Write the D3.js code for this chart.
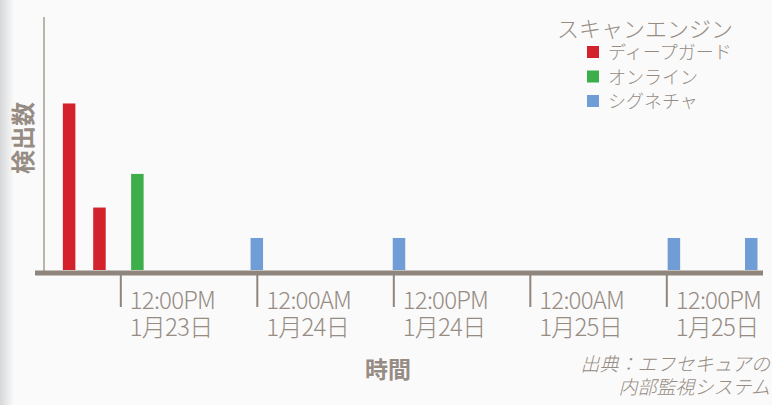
<!DOCTYPE html>
<html>
<head>
<meta charset="utf-8">
<script src="https://cdn.jsdelivr.net/npm/d3@7"></script>
<style>
  html, body { margin: 0; padding: 0; background: #fafafa; }
  svg { display: block; }
  text { font-family: "Noto Sans CJK JP", "Noto Sans", sans-serif; fill: #968c84; }
</style>
</head>
<body>
<div id="chart"></div>
<script>
// detections by scan engine over time
const engines = ['ディープガード', 'オンライン', 'シグネチャ'];
const engineColors = ['#d3222b', '#3dae4a', '#709dd5'];

const detectTimes = [
  '2015-01-23T07:30', '2015-01-23T10:10', '2015-01-23T13:30',
  '2015-01-24T00:00', '2015-01-24T12:30', '2015-01-25T12:40', '2015-01-25T19:28'
];
const detectEngines = [0, 0, 1, 2, 2, 2, 2];
const detectCounts = [5.2, 1.95, 3, 1, 1, 1, 1];

const tickTimes = [
  '2015-01-23T12:00', '2015-01-24T00:00', '2015-01-24T12:00',
  '2015-01-25T00:00', '2015-01-25T12:00'
];
const tickTimeLabels = ['12:00PM', '12:00AM', '12:00PM', '12:00AM', '12:00PM'];
const tickDateLabels = ['1月23日', '1月24日', '1月24日', '1月25日', '1月25日'];

const width = 772;
const height = 405;
const axisColor = '#8f857d';

const parse = d3.utcParse('%Y-%m-%dT%H:%M');
const data = detectTimes.map((t, i) => ({
  time: parse(t),
  engine: detectEngines[i],
  value: detectCounts[i]
}));

const svg = d3.select('#chart').append('svg')
  .attr('width', width)
  .attr('height', height);

// grey shading down the left edge
const grad = svg.append('defs').append('linearGradient')
  .attr('id', 'edge').attr('x1', 0).attr('x2', 1);
grad.append('stop').attr('offset', 0).attr('stop-color', '#d6d7d9');
grad.append('stop').attr('offset', 1).attr('stop-color', '#fafafa');
svg.append('rect').attr('x', 0).attr('y', 0).attr('width', 14).attr('height', height)
  .attr('fill', 'url(#edge)');

// 136.5px per 12 hours
const x = d3.scaleUtc()
  .domain([parse('2015-01-23T04:30'), parse('2015-01-25T20:30')])
  .range([35, 35 + 64 * 136.5 / 12]);
const y = d3.scaleLinear().domain([0, 7.9]).range([270, 17]);
const barWidth = 12.5;

// y axis line
svg.append('line')
  .attr('x1', 44).attr('x2', 44)
  .attr('y1', y(7.9)).attr('y2', y(0) + 1)
  .attr('stroke', '#a59d96').attr('stroke-width', 1.5);

// bars
svg.append('g').selectAll('rect').data(data).join('rect')
  .attr('x', d => x(d.time) - barWidth / 2)
  .attr('y', d => y(d.value))
  .attr('width', barWidth)
  .attr('height', d => y(0) - y(d.value))
  .attr('fill', d => engineColors[d.engine]);

// x axis
const xAxis = d3.axisBottom(x)
  .tickValues(tickTimes.map(parse))
  .tickSize(32)
  .tickSizeOuter(0)
  .tickFormat('');
const gx = svg.append('g')
  .attr('transform', `translate(0,${y(0) + 5})`)
  .call(xAxis);
gx.select('.domain').remove();
gx.selectAll('.tick line').attr('stroke', axisColor).attr('stroke-width', 2);
gx.selectAll('.tick').each(function(d, i) {
  const t = d3.select(this).append('text')
    .attr('x', 9)
    .attr('text-anchor', 'start')
    .style('font-size', '24px')
    .style('font-weight', 300)
    .style('letter-spacing', '-0.8px')
    .attr('fill', '#968c84');
  t.append('tspan').attr('x', 9).attr('y', 34).text(tickTimeLabels[i]);
  t.append('tspan').attr('x', 9).attr('y', 61).text(tickDateLabels[i]);
});
// thick baseline
svg.append('rect')
  .attr('x', x.range()[0]).attr('y', y(0) + 0.5)
  .attr('width', x.range()[1] - x.range()[0]).attr('height', 5)
  .attr('fill', axisColor);

// axis titles
svg.append('text')
  .attr('x', 388).attr('y', 378)
  .attr('text-anchor', 'middle')
  .style('font-size', '23px')
  .style('font-weight', 700)
  .text('時間');
svg.append('text')
  .attr('transform', 'translate(32,138) rotate(-90)')
  .attr('text-anchor', 'middle')
  .style('font-size', '24px')
  .style('font-weight', 700)
  .text('検出数');

// legend
const legend = svg.append('g');
legend.append('text')
  .attr('x', 557).attr('y', 37)
  .style('font-size', '22px')
  .style('font-weight', 300)
  .text('スキャンエンジン');
const item = legend.selectAll('.item').data(engines).join('g')
  .attr('class', 'item')
  .attr('transform', (d, i) => `translate(587,${46 + i * 24.5})`);
item.append('rect')
  .attr('width', 12).attr('height', 12)
  .attr('fill', (d, i) => engineColors[i]);
item.append('text')
  .attr('x', 21).attr('y', 13)
  .style('font-size', '18px')
  .style('font-weight', 300)
  .text(d => d);

// source note
const src = svg.append('text')
  .attr('text-anchor', 'end')
  .style('font-size', '19px')
  .style('font-style', 'italic')
  .style('font-weight', 300);
src.append('tspan').attr('x', 770).attr('y', 371).text('出典：エフセキュアの');
src.append('tspan').attr('x', 770).attr('y', 394).text('内部監視システム');
</script>
</body>
</html>
